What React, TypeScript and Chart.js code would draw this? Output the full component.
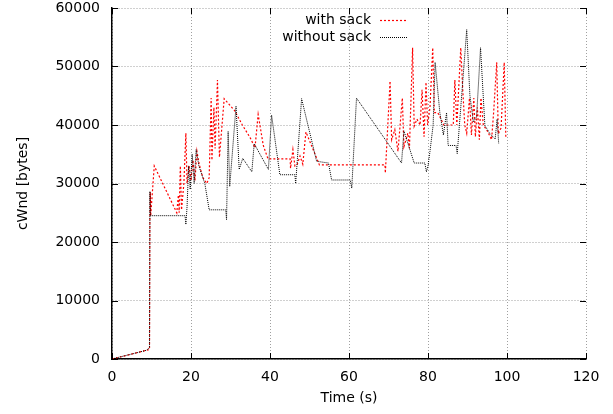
import React, { useEffect, useRef } from "react";
import { Chart, registerables } from "chart.js";

Chart.register(...registerables);

const sackTime = [0, 8.8, 9.5, 9.6, 9.7, 9.8, 10.7, 16.4, 16.8, 17.0, 17.3, 17.6, 18.2, 18.7, 19.0, 19.5, 20.0, 20.5, 21.0, 21.5, 22.0, 23.0, 24.0, 24.6, 25.1, 25.3, 25.8, 26.1, 26.7, 27.2, 28.4, 31.0, 33.0, 35.0, 36.2, 37.0, 38.3, 39.5, 45.1, 45.2, 45.8, 46.3, 46.9, 47.6, 48.3, 49.1, 52.5, 69.1, 69.2, 70.4, 70.8, 71.6, 72.4, 73.5, 73.9, 74.9, 75.3, 76.1, 76.5, 77.2, 78.0, 78.5, 79.0, 79.5, 79.9, 80.5, 81.2, 81.6, 82.5, 84.0, 86.4, 86.8, 87.3, 88.3, 88.8, 89.3, 89.8, 90.5, 91.0, 91.6, 92.0, 92.5, 93.0, 93.4, 94.0, 95.0, 96.1, 96.6, 97.4, 97.8, 98.5, 99.3, 99.7];
const sackCwnd = [0, 1500, 1600, 24500, 28500, 24500, 33000, 25000, 28000, 25000, 33000, 25500, 30000, 38600, 30000, 33000, 30500, 34000, 30500, 35500, 33500, 31000, 30000, 31000, 44600, 34000, 43000, 36000, 47700, 34500, 44500, 42500, 40000, 37800, 36100, 41800, 36500, 34200, 34200, 32600, 35800, 33000, 33300, 34700, 33300, 38800, 33200, 33200, 31800, 47500, 37500, 39200, 35500, 44600, 36300, 38600, 36000, 53200, 39800, 41000, 40000, 46000, 38000, 47300, 40000, 43000, 53200, 42100, 42100, 40000, 40000, 47700, 40000, 53200, 46000, 40000, 38600, 44600, 38300, 44600, 38000, 43000, 37500, 44600, 40000, 39000, 37500, 42000, 50700, 38500, 39500, 50700, 38000];

const noSackTime = [0, 8.8, 9.5, 9.6, 9.7, 18.5, 18.7, 19.0, 19.4, 19.8, 20.3, 20.8, 21.3, 22.0, 23.5, 24.6, 28.8, 29.0, 29.4, 29.8, 31.4, 32.2, 33.1, 35.4, 36.0, 39.6, 40.4, 42.5, 46.3, 46.5, 48.0, 51.8, 54.8, 55.6, 60.3, 60.7, 61.9, 73.3, 73.9, 76.5, 79.2, 79.6, 80.0, 80.5, 81.3, 81.8, 83.0, 83.9, 84.7, 85.1, 87.1, 87.4, 89.8, 90.6, 91.5, 92.3, 93.3, 94.4, 95.7, 97.0, 97.5, 97.9];
const noSackCwnd = [0, 1500, 2000, 28650, 24500, 24500, 23000, 26000, 33000, 29000, 35000, 30000, 35800, 33000, 30000, 25500, 25500, 23800, 38900, 29500, 43200, 32400, 34300, 32000, 36800, 32400, 41700, 31500, 31500, 30000, 44500, 33800, 33500, 30600, 30600, 29200, 44600, 33500, 39000, 33500, 33500, 32000, 33000, 35500, 40000, 50700, 42100, 38300, 42100, 36500, 36500, 35100, 56300, 45100, 40500, 41400, 53200, 39900, 38500, 37600, 41000, 36800];

const seriesLabels = ["with sack", "without sack"];
const xTitle = "Time (s)";
const yTitle = "cWnd [bytes]";

const FONT = "DejaVu Sans";

const frameTicks = {
  id: "frameTicks",
  afterDraw(chart: any) {
    const { ctx, chartArea } = chart;
    const { left, right, top, bottom } = chartArea;
    const xs = chart.scales.x;
    const ys = chart.scales.y;
    ctx.save();
    ctx.strokeStyle = "#000";
    ctx.lineWidth = 1;
    ctx.setLineDash([]);
    ctx.beginPath();
    ys.ticks.forEach((t: any) => {
      const p = Math.round(ys.getPixelForValue(t.value)) + 0.5;
      ctx.moveTo(left, p);
      ctx.lineTo(left + 6, p);
      ctx.moveTo(right, p);
      ctx.lineTo(right - 6, p);
    });
    xs.ticks.forEach((t: any) => {
      const p = Math.round(xs.getPixelForValue(t.value)) + 0.5;
      ctx.moveTo(p, bottom);
      ctx.lineTo(p, bottom - 6);
      ctx.moveTo(p, top);
      ctx.lineTo(p, top + 6);
    });
    ctx.stroke();

    // legend
    ctx.font = `14px "${FONT}"`;
    ctx.textAlign = "right";
    ctx.textBaseline = "middle";
    ctx.fillStyle = "#000";
    const rows = [20, 37];
    chart.data.datasets.forEach((ds: any, i: number) => {
      const y = rows[i];
      ctx.fillText(ds.label, 371, y);
      ctx.save();
      ctx.strokeStyle = ds.borderColor;
      ctx.lineWidth = ds.borderWidth;
      ctx.setLineDash(ds.borderDash);
      ctx.beginPath();
      ctx.moveTo(380, y + 0.5);
      ctx.lineTo(408, y + 0.5);
      ctx.stroke();
      ctx.restore();
    });
    ctx.restore();
  },
};

export default function App() {
  const ref = useRef<HTMLCanvasElement>(null);
  useEffect(() => {
    document.body.style.margin = "0";
    Chart.defaults.font.family = FONT;
    Chart.defaults.font.size = 14;
    Chart.defaults.color = "#000";
    const chart = new Chart(ref.current!, {
      type: "line",
      data: {
        datasets: [
          {
            label: seriesLabels[0],
            data: sackTime.map((t, i) => ({ x: t, y: sackCwnd[i] })),
            borderColor: "#ff0000",
            borderWidth: 1.2,
            borderDash: [2, 2],
            pointRadius: 0,
            tension: 0,
            fill: false,
            order: 1,
          },
          {
            label: seriesLabels[1],
            data: noSackTime.map((t, i) => ({ x: t, y: noSackCwnd[i] })),
            borderColor: "#000000",
            borderWidth: 1,
            borderDash: [1, 1],
            pointRadius: 0,
            tension: 0,
            fill: false,
            order: 0,
          },
        ],
      },
      options: {
        animation: false,
        responsive: false,
        devicePixelRatio: 1,
        layout: { padding: { top: 8, right: 27, left: 0, bottom: 0 } },
        plugins: { legend: { display: false }, tooltip: { enabled: false } },
        scales: {
          x: {
            type: "linear",
            min: 0,
            max: 120,
            ticks: { stepSize: 20, padding: 10, maxRotation: 0, callback: (v: any) => String(v) },
            grid: { color: "#a0a0a0", drawTicks: false, lineWidth: 1 },
            border: { display: true, color: "#000", width: 1.5, dash: [1, 2] },
            title: { display: true, text: xTitle, padding: { top: 0, bottom: 7 } },
            afterFit: (s: any) => {
              s.height = 55;
              s.paddingLeft = 0;
              s.paddingRight = 0;
            },
          },
          y: {
            type: "linear",
            min: 0,
            max: 60000,
            ticks: { stepSize: 10000, padding: 12, callback: (v: any) => String(v) },
            grid: { color: "#a0a0a0", drawTicks: false, lineWidth: 1 },
            border: { display: true, color: "#000", width: 1.5, dash: [1, 2] },
            title: { display: true, text: yTitle, padding: { top: 15, bottom: 0 } },
            afterFit: (s: any) => {
              s.width = 112;
              s.paddingTop = 0;
              s.paddingBottom = 0;
            },
          },
        },
      },
      plugins: [frameTicks],
    });
    return () => chart.destroy();
  }, []);
  return <canvas ref={ref} width={613} height={414} style={{ display: "block" }} />;
}
